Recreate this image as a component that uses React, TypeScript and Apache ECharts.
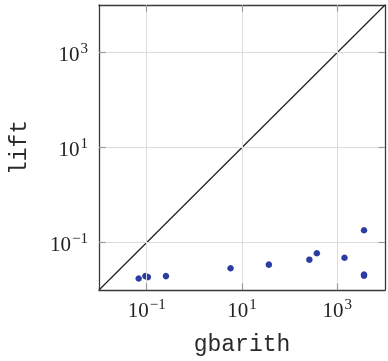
import React, { useEffect, useRef } from "react";
import * as echarts from "echarts";

const gbarith = [0.068, 0.094, 0.106, 0.254, 5.75, 36.6, 259, 372, 1413, 3630, 3630, 3630];
const lift = [0.0175, 0.0196, 0.0187, 0.0196, 0.0287, 0.0342, 0.0435, 0.0594, 0.0478, 0.1815, 0.02, 0.0212];
const axisMin = 0.01;
const axisMax = 10000;
const gridLines = [0.1, 10, 1000];
const TICK_DECADES = 0.14;

const fmt = (v: number) => {
  const e = Math.round(Math.log10(v));
  if (Math.abs(e) % 2 !== 1) return "";
  const s = e < 0 ? "\u2212" + -e : String(e);
  return `{b|10}{s|${s}}`;
};

const rich = {
  b: { fontFamily: "Liberation Serif", fontSize: 21, color: "#222", verticalAlign: "bottom", lineHeight: 24 },
  s: { fontFamily: "Liberation Serif", fontSize: 15, color: "#222", verticalAlign: "top", lineHeight: 24, padding: [0, 0, 8, 1] },
};

export default function App() {
  const ref = useRef<HTMLDivElement>(null);
  useEffect(() => {
    const chart = echarts.init(ref.current!, null, { renderer: "svg" });
    const frame = { show: true, onZero: false, lineStyle: { color: "#3a3a3a", width: 1.3 } };
    const baseAxis = (pos: string) => ({
      type: "log",
      logBase: 10,
      min: axisMin,
      max: axisMax,
      position: pos,
      axisLine: frame,
      axisTick: { show: false },
      splitLine: { show: false },
      axisLabel: { show: false },
    });
    const f = Math.pow(10, TICK_DECADES);
    const tickSegs: any[] = [];
    gridLines.forEach((g) => {
      tickSegs.push([{ coord: [g, axisMin] }, { coord: [g, axisMin * f] }]);
      tickSegs.push([{ coord: [g, axisMax] }, { coord: [g, axisMax / f] }]);
      tickSegs.push([{ coord: [axisMin, g] }, { coord: [axisMin * f, g] }]);
      tickSegs.push([{ coord: [axisMax, g] }, { coord: [axisMax / f, g] }]);
    });
    chart.setOption({
      animation: false,
      grid: { left: 98, top: 5, width: 289, height: 290 },
      xAxis: [
        {
          ...baseAxis("bottom"),
          name: "gbarith",
          nameLocation: "middle",
          nameGap: 43,
          nameTextStyle: { fontFamily: "Liberation Mono", fontSize: 23, color: "#2a2a2a" },
          axisLabel: { show: true, formatter: fmt, rich, margin: 6 },
        },
        baseAxis("top"),
      ],
      yAxis: [
        {
          ...baseAxis("left"),
          name: "lift",
          nameLocation: "middle",
          nameGap: 68,
          nameTextStyle: { fontFamily: "Liberation Mono", fontSize: 23, color: "#2a2a2a" },
          axisLabel: { show: true, formatter: fmt, rich, margin: 11 },
        },
        baseAxis("right"),
      ],
      series: [
        {
          type: "scatter",
          data: [],
          z: 1,
          silent: true,
          markLine: {
            silent: true,
            symbol: "none",
            label: { show: false },
            animation: false,
            lineStyle: { color: "#dcdcdc", width: 1, type: "solid" },
            data: [
              ...gridLines.map((g) => ({ xAxis: g })),
              ...gridLines.map((g) => ({ yAxis: g })),
            ],
          },
        },
        {
          type: "scatter",
          data: [],
          z: 2,
          silent: true,
          markLine: {
            silent: true,
            symbol: "none",
            label: { show: false },
            animation: false,
            lineStyle: { color: "#9a9a9a", width: 1.2, type: "solid" },
            data: tickSegs,
          },
        },
        {
          type: "line",
          data: [[axisMin, axisMin], [axisMax, axisMax]],
          showSymbol: false,
          symbol: "none",
          z: 3,
          lineStyle: { color: "#1e1e1e", width: 1.2 },
          silent: true,
        },
        {
          type: "scatter",
          data: gbarith.map((x, i) => [x, lift[i]]),
          symbolSize: 6.5,
          z: 4,
          itemStyle: { color: "#2b3ca2", opacity: 1 },
        },
      ],
    });
    return () => chart.dispose();
  }, []);
  return <div ref={ref} style={{ position: "fixed", left: 0, top: 0, width: 388, height: 361 }} />;
}
